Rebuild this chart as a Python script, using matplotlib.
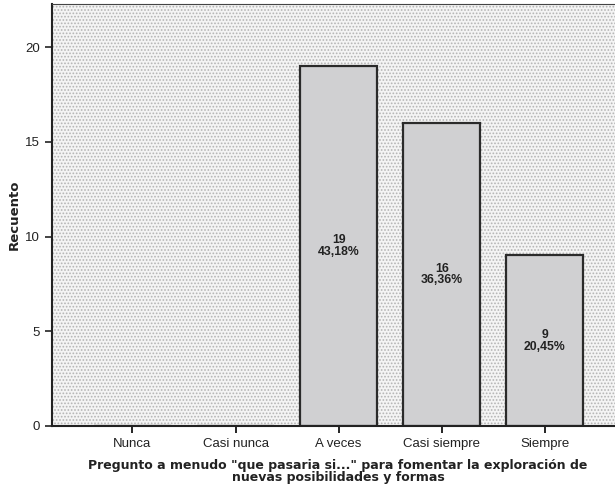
import numpy as np
import matplotlib.pyplot as plt
from matplotlib.patches import Rectangle

categorias = ["Nunca", "Casi nunca", "A veces", "Casi siempre", "Siempre"]
recuento = [0, 0, 19, 16, 9]
porcentajes = ["", "", "43,18%", "36,36%", "20,45%"]

plt.rcParams['font.family'] = ['Liberation Sans', 'DejaVu Sans']
plt.rcParams['hatch.linewidth'] = 0.8

fig = plt.figure(figsize=(6.15, 4.93), dpi=100)
ax = fig.add_axes([52/615, 67/493, 565/615, 422/493])

x = np.arange(len(categorias))
ax.set_xlim(-0.78, 4.7)
ax.set_ylim(0, 22.27)

# fondo punteado estilo SPSS
ax.set_facecolor('#f4f4f4')
ax.add_patch(Rectangle((0, 0), 1, 1, transform=ax.transAxes, facecolor='none',
                       edgecolor='#b4b4b4', hatch='.....', linewidth=0, zorder=0))

ax.bar(x, recuento, width=0.75, color='#d0d0d2', edgecolor='#2a2a2a', linewidth=1.6, zorder=2)

for xi, n, p in zip(x, recuento, porcentajes):
    if n > 0:
        ax.text(xi, n/2, f"{n}\n{p}", ha='center', va='center', fontsize=8.8,
                fontweight='bold', color='#222222', linespacing=0.95, zorder=3)

ax.set_xticks(x)
ax.set_xticklabels(categorias, fontsize=9.5, color='#222222')
ax.set_yticks([0, 5, 10, 15, 20])
ax.tick_params(axis='y', labelsize=9.5, colors='#222222', length=5, width=1.2, direction='out')
ax.tick_params(axis='x', length=5, width=1.2, direction='out')
for s in ['left', 'bottom']:
    ax.spines[s].set_linewidth(1.5)
    ax.spines[s].set_color('#222222')
ax.spines['top'].set_linewidth(0.8)
ax.spines['top'].set_color('#444444')
ax.spines['right'].set_visible(False)

ax.set_ylabel("Recuento", fontsize=9.5, fontweight='bold', family='DejaVu Sans', color='#222222')
ax.yaxis.set_label_coords(-0.055, 0.5)
ax.set_xlabel("Pregunto a menudo \"que pasaria si...\" para fomentar la exploración de\nnuevas posibilidades y formas",
              fontsize=9.0, fontweight='bold', family='DejaVu Sans', color='#222222', linespacing=0.95)
ax.xaxis.set_label_coords(0.506, -0.078)

fig.savefig("out.png", dpi=100)
